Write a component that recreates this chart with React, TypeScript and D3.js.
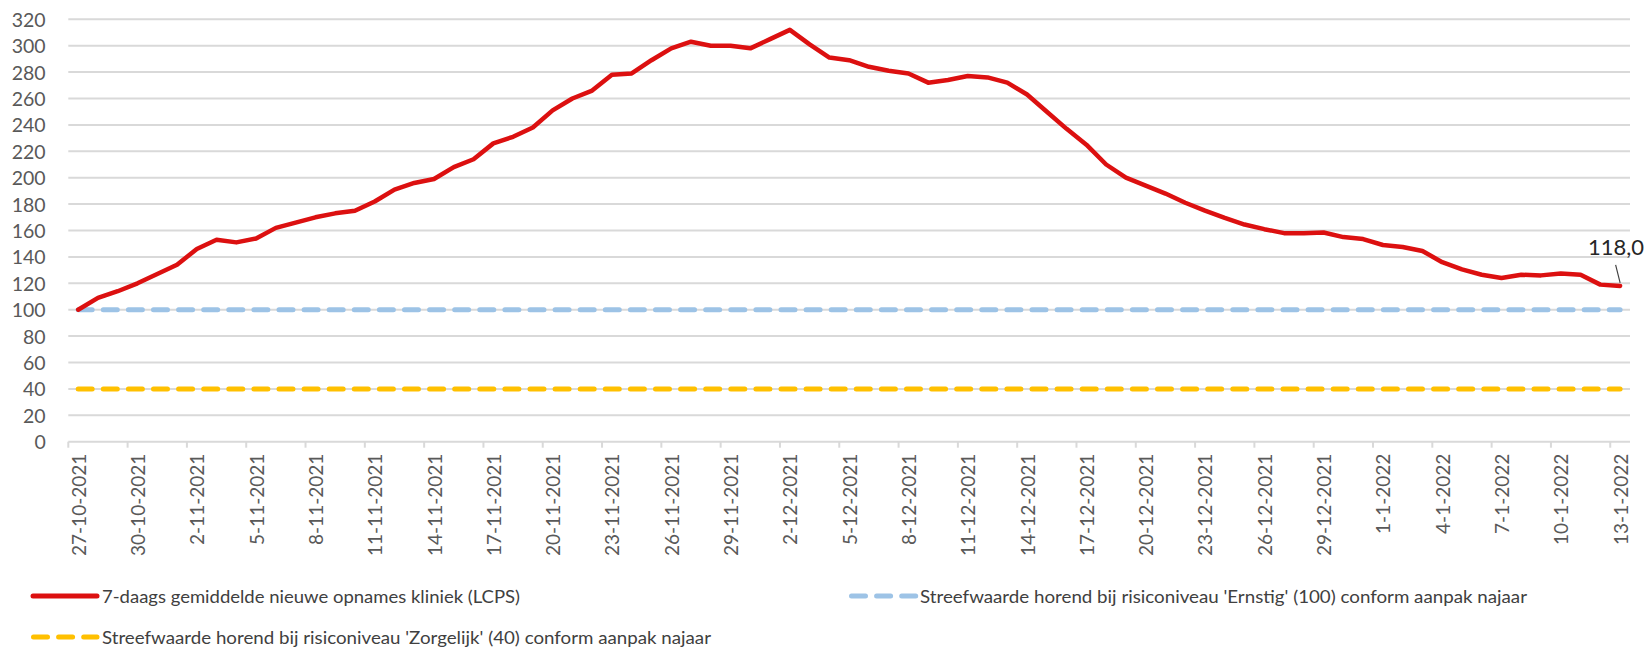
import { useEffect } from "react";
import * as d3 from "d3";

// 7-daags gemiddelde nieuwe opnames kliniek (LCPS), 27-10-2021 t/m 13-1-2022
const opnames = [
  100, 109, 114, 120, 127, 134, 146, 153, 151, 154,
  162, 166, 170, 173, 175, 182, 191, 196, 199, 208,
  214, 226, 231, 238, 251, 260, 266, 278, 279, 289,
  298, 303, 300, 300, 298, 305, 312, 301, 291, 289,
  284, 281, 279, 272, 274, 277, 276, 272, 263, 250,
  237, 225, 210, 200, 194, 188, 181, 175, 169.5, 164.5,
  161, 158, 158, 158.5, 155, 153.5, 149, 147.5, 144.5, 136,
  130.5, 126.5, 124, 126.5, 126, 127.5, 126.5, 119, 118,
];

const dates = d3.timeDay.range(new Date(2021, 9, 27), new Date(2022, 0, 14));
const categories = dates.map(d3.timeFormat("%-d-%-m-%Y"));
const yTicks = [0, 20, 40, 60, 80, 100, 120, 140, 160, 180, 200, 220, 240, 260, 280, 300, 320];

const streefErnstig = 100;
const streefZorgelijk = 40;

const legendRed = "7-daags gemiddelde nieuwe opnames kliniek (LCPS)";
const legendBlue = "Streefwaarde horend bij risiconiveau 'Ernstig' (100) conform aanpak najaar";
const legendYellow = "Streefwaarde horend bij risiconiveau 'Zorgelijk' (40) conform aanpak najaar";

const RED = "#dc1010";
const BLUE = "#9dc3e6";
const YELLOW = "#ffc000";
const GRID = "#d9d9d9";
const FONT = "Lato, 'Open Sans', sans-serif";

export default function App() {
  const width = 1647;
  const height = 648;

  useEffect(() => {
    document.body.style.margin = "0";
  }, []);

  const x = d3.scaleBand().domain(categories).range([68.3, 1630]).padding(0);
  const bw = x.bandwidth();
  const cx = (i: number) => (x(categories[i]) as number) + bw / 2;
  const y = d3.scaleLinear().domain([0, 320]).range([441.7, 19.3]);

  const line = d3
    .line<number>()
    .x((d, i) => cx(i))
    .y((d) => y(d));

  const firstX = cx(0);
  const lastX = cx(categories.length - 1);
  const lastY = y(opnames[opnames.length - 1]);

  const dash = "14 11.1";

  return (
    <svg width={width} height={height} style={{ display: "block", background: "#fff" }}>
      {/* gridlines */}
      <g>
        {yTicks.map((t) => (
          <line key={t} x1={68.3} x2={1630} y1={y(t)} y2={y(t)} stroke={GRID} strokeWidth={2} />
        ))}
      </g>
      {/* y labels */}
      <g fontFamily={FONT} fontSize={19.5} fill="#595959" textAnchor="end">
        {yTicks.map((t) => (
          <text key={t} x={45.7} y={y(t)} dominantBaseline="central">
            {t}
          </text>
        ))}
      </g>
      {/* x ticks and labels */}
      <g>
        {categories.map((c, i) =>
          i % 3 === 0 ? (
            <line key={c} x1={x(c)} x2={x(c)} y1={y(0)} y2={y(0) + 6} stroke={GRID} strokeWidth={2} />
          ) : null
        )}
      </g>
      <g fontFamily={FONT} fontSize={19} fill="#595959" textAnchor="end">
        {categories.map((c, i) =>
          i % 3 === 0 ? (
            <text
              key={c}
              transform={`translate(${cx(i)},${y(0) + 12}) rotate(-90)`}
              dominantBaseline="central"
            >
              {c}
            </text>
          ) : null
        )}
      </g>
      {/* reference lines */}
      <line
        x1={firstX}
        x2={lastX}
        y1={y(streefErnstig)}
        y2={y(streefErnstig)}
        stroke={BLUE}
        strokeWidth={5}
        strokeDasharray={dash}
        strokeLinecap="round"
      />
      <line
        x1={firstX}
        x2={lastX}
        y1={y(streefZorgelijk)}
        y2={y(streefZorgelijk)}
        stroke={YELLOW}
        strokeWidth={5}
        strokeDasharray={dash}
        strokeLinecap="round"
      />
      {/* main series */}
      <path d={line(opnames) ?? ""} fill="none" stroke={RED} strokeWidth={4.5} strokeLinejoin="round" strokeLinecap="round" />
      {/* last value annotation */}
      <line x1={lastX - 4.5} y1={lastY - 21} x2={lastX} y2={lastY - 3} stroke="#404040" strokeWidth={1.2} />
      <text
        x={lastX - 4}
        y={lastY - 31}
        textAnchor="middle"
        fontFamily={FONT}
        fontSize={22}
        fill="#262626"
      >
        {opnames[opnames.length - 1].toFixed(1).replace(".", ",")}
      </text>
      {/* legend */}
      <g fontFamily={FONT} fontSize={18} fill="#404040">
        <line x1={33} x2={97} y1={596} y2={596} stroke={RED} strokeWidth={5} strokeLinecap="round" />
        <text x={102} y={596} dominantBaseline="central" textLength={418} lengthAdjust="spacingAndGlyphs">
          {legendRed}
        </text>
        <line
          x1={851.5}
          x2={916}
          y1={596}
          y2={596}
          stroke={BLUE}
          strokeWidth={5}
          strokeDasharray={dash}
          strokeLinecap="round"
        />
        <text x={920} y={596} dominantBaseline="central" textLength={607} lengthAdjust="spacingAndGlyphs">
          {legendBlue}
        </text>
        <line
          x1={33.5}
          x2={97}
          y1={637}
          y2={637}
          stroke={YELLOW}
          strokeWidth={5}
          strokeDasharray={dash}
          strokeLinecap="round"
        />
        <text x={102} y={637} dominantBaseline="central" textLength={609} lengthAdjust="spacingAndGlyphs">
          {legendYellow}
        </text>
      </g>
    </svg>
  );
}
